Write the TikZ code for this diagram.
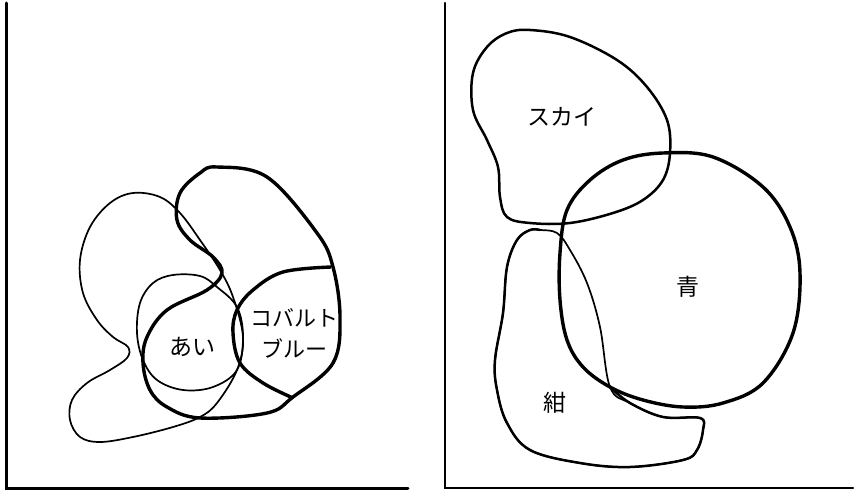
\documentclass[tikz,border=0pt]{standalone}
\usepackage{fontspec}
\newfontfamily\jpfont{Noto Sans CJK JP}

\begin{document}
\begin{tikzpicture}[
    x=1pt, y=-1pt,
    axis/.style={
        line width=3pt,
        line cap=round
    },
    heavy/.style={
        line width=3.4pt,
        line join=round
    },
    medium/.style={
        line width=2.5pt
    },
    light/.style={
        line width=1.7pt
    },
    label/.style={
        font=\jpfont\fontsize{23}{31}\selectfont,
        align=center,
        inner sep=0pt
    }
]
\useasboundingbox (0,0) rectangle (857,495);

% Left panel axes
\draw[axis] (6,3) -- (6,488) -- (408,488);

% Thin outer blob
\draw[light] plot[smooth cycle, tension=0.6] coordinates {
    (133,193) (160,197) (180,213) (200,240) (220,270) (233,297)
    (243,337) (237,370) (217,403) (200,417) (173,427) (133,437)
    (100,442) (80,437) (70,420) (72,400) (87,383) (110,370)
    (127,358) (128,347) (113,337) (97,320) (83,293) (80,260)
    (90,227) (110,203)};

% Thin circle (あい)
\draw[light] plot[smooth cycle, tension=0.6] coordinates {
    (173,275) (200,276) (217,287) (237,307) (243,337) (237,370)
    (213,387) (183,390) (157,380) (143,360) (137,333) (140,303)
    (153,283)};

% Thick kidney
\draw[heavy] plot[smooth cycle, tension=0.6] coordinates {
    (217,167) (267,177) (317,233) (333,267) (340,317) (333,363)
    (293,397) (267,413) (200,418) (167,407) (150,390) (143,363)
    (147,337) (167,310) (207,290) (222,273) (213,257) (190,240)
    (177,220) (180,193) (200,173)};

% Thick arc closing the cobalt circle
\draw[heavy] plot[smooth, tension=0.6] coordinates {
    (331,267) (283,272) (253,290) (237,310) (233,333) (240,363)
    (263,383) (293,398)};

% Left labels
\node[label] (ai) at (192,347) {あい};
\node[label, font=\jpfont\fontsize{22}{31}\selectfont] (cobalt) at (294,333) {コバルト\\ブルー};

% Right panel axes
\draw[axis, line width=2.4pt] (445,3) -- (445,488) -- (853,488);

% Sky shape
\draw[medium] plot[smooth cycle, tension=0.6] coordinates {
    (530,30) (570,37) (617,60) (647,87) (667,120) (670,153)
    (663,180) (643,200) (613,213) (570,223) (530,223) (507,217)
    (500,197) (498,167) (487,140) (473,110) (473,73) (487,47)
    (507,33)};

% Blue circle
\draw[heavy] plot[smooth cycle, tension=0.6] coordinates {
    (663,153) (713,157) (763,187) (790,227) (800,273) (793,333)
    (763,383) (723,403) (683,407) (643,400) (610,387) (583,367)
    (567,340) (560,300) (560,253) (567,210) (590,180) (623,160)};

% Navy shape
\draw[light] plot[smooth cycle, tension=0.6] coordinates {
    (540,230) (557,233) (570,250) (587,283) (600,327) (610,387)
    (630,403) (663,417) (700,418) (703,430) (697,450) (683,460)
    (630,467) (580,463) (530,450) (507,423) (497,390) (495,360)
    (503,313) (507,267) (517,240) (530,230)};
\draw[medium] plot[smooth, tension=0.6] coordinates {
    (610,387) (630,403) (663,417) (700,418) (703,430) (697,450)
    (683,460) (630,467) (580,463) (530,450) (507,423) (497,390)
    (495,360) (503,313) (507,267) (517,240) (530,230) (540,230)};

% Right labels
\node[label] (sky) at (562,117) {スカイ};
\node[label] (ao) at (688,287) {青};
\node[label] (kon) at (555,403) {紺};

\end{tikzpicture}
\end{document}
